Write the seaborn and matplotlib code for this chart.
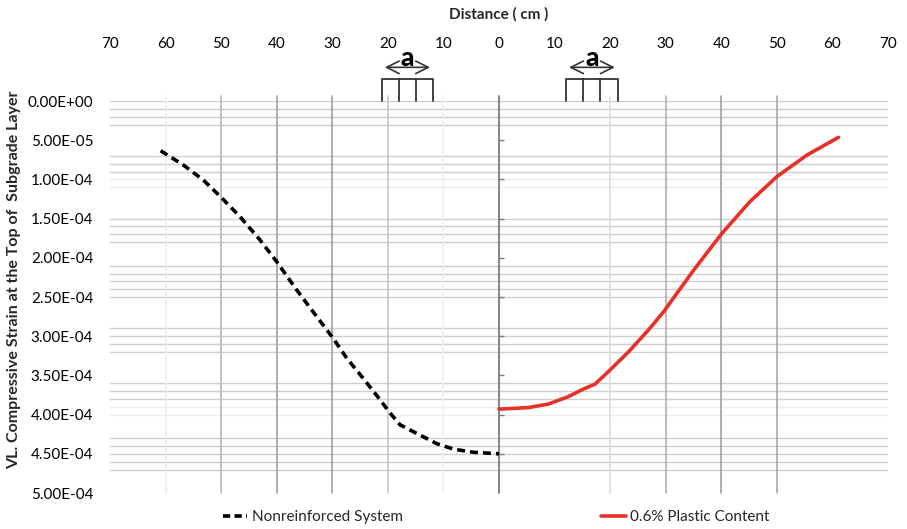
import matplotlib
matplotlib.use("Agg")
import matplotlib.pyplot as plt
import seaborn as sns
import numpy as np
import pandas as pd
from matplotlib.ticker import FuncFormatter
from matplotlib.lines import Line2D

# ---------------- data ----------------
dist_nonreinf = [-60.9, -56.8, -53.2, -50.1, -46.6, -43.0, -40.0, -36.4, -32.8, -29.8,
                 -27.4, -24.4, -21.4, -19.6, -17.8, -14.8, -11.2, -8.2, -4.6, 0]
strain_nonreinf = [6.34e-5, 8.16e-5, 1.008e-4, 1.221e-4, 1.476e-4, 1.773e-4, 2.05e-4, 2.41e-4,
                   2.75e-4, 3.03e-4, 3.28e-4, 3.54e-4, 3.81e-4, 3.98e-4, 4.13e-4, 4.24e-4,
                   4.37e-4, 4.44e-4, 4.48e-4, 4.50e-4]

dist_plastic = [0, 5.3, 8.9, 12.5, 15.0, 17.3, 19.7, 23.3, 26.9, 29.6, 35.0, 40.1, 45.2, 50.0, 55.4, 61.1]
strain_plastic = [3.93e-4, 3.91e-4, 3.865e-4, 3.77e-4, 3.68e-4, 3.61e-4, 3.45e-4, 3.20e-4, 2.92e-4,
                  2.69e-4, 2.16e-4, 1.69e-4, 1.28e-4, 9.65e-5, 6.9e-5, 4.63e-5]

x_ticks = [-70, -60, -50, -40, -30, -20, -10, 0, 10, 20, 30, 40, 50, 60, 70]
y_ticks = [0, 5e-5, 1e-4, 1.5e-4, 2e-4, 2.5e-4, 3e-4, 3.5e-4, 4e-4, 4.5e-4, 5e-4]

series_names = ["Nonreinforced System", "0.6% Plastic Content"]
x_title = "Distance ( cm )"
y_title = "VL. Compressive Strain at the Top of  Subgrade Layer"
load_label = "a"

# ---------------- style ----------------
sns.set_style("white")
plt.rcParams["font.family"] = ["Lato", "DejaVu Sans"]

fig = plt.figure(figsize=(9.07, 5.29), dpi=100)
ax = fig.add_axes([0.1213, 0.068, 0.979 - 0.1213, 0.809 - 0.068])

df1 = pd.DataFrame({"d": dist_nonreinf, "s": strain_nonreinf})
df2 = pd.DataFrame({"d": dist_plastic, "s": strain_plastic})

# grid lines (styling)
minor_levels = [0, 1, 2, 3, 7, 8, 9, 15, 16, 17, 18, 21, 22, 23, 24, 25,
                29, 30, 31, 32, 36, 37, 38, 43, 44, 45, 46, 47]
faint_levels = [10, 11, 39, 40]
for lv in minor_levels:
    ax.axhline(lv * 1e-5, color="#cfcfcf", lw=1.0, zorder=0)
for lv in faint_levels:
    ax.axhline(lv * 1e-5, color="#ececec", lw=1.0, zorder=0)

vcolors = {-60: "#eeeeee", -50: "#b8b8b8", -40: "#a0a0a0", -30: "#a0a0a0", -20: "#c8c8c8",
           -10: "#f0f0f0", 20: "#dddddd", 30: "#b0b0b0", 40: "#a0a0a0", 50: "#a8a8a8"}
for xv, c in vcolors.items():
    ax.axvline(xv, ymin=0, ymax=1.013, color=c, lw=1.2, zorder=0.5, clip_on=False)
ax.axvline(0, ymin=0, ymax=1.013, color="#7a7a7a", lw=1.3, zorder=0.6, clip_on=False)
ax.hlines(y_ticks[1:-1], 0, 0.9, color="#7a7a7a", lw=1.0, zorder=0.6)

sns.lineplot(data=df1, x="d", y="s", ax=ax, color="black", lw=2.6,
             linestyle=(0, (2.2, 1.4)), sort=False, zorder=3)
sns.lineplot(data=df2, x="d", y="s", ax=ax, color="#e8302a", lw=2.6, sort=False, zorder=3)

ax.set_xlim(-70, 70)
ax.set_ylim(5e-4, 0)
ax.set_xticks(x_ticks)
ax.set_xticklabels([str(abs(v)) for v in x_ticks])
ax.set_yticks(y_ticks)
ax.yaxis.set_major_formatter(FuncFormatter(lambda v, p: f"{v:.2E}"))
ax.xaxis.set_ticks_position("top")
ax.tick_params(axis="x", length=0, pad=36, labelsize=11, colors="black")
ax.tick_params(axis="y", length=0, pad=12, labelsize=11, colors="black")
for s in ax.spines.values():
    s.set_visible(False)
ax.set_xlabel("")
ax.set_ylabel("")
fig.text(499 / 907, 1 - 14 / 529, x_title, ha="center", va="center",
         fontsize=11, fontweight="bold")
fig.text(14 / 907, 1 - 280 / 529, y_title, ha="center", va="center", rotation=90,
         fontsize=11.5, fontweight="bold")

# load sketch (two wheel groups)
box_top = -2.85e-5
arrow_y = -4.3e-5
for x0, x1 in [(-21.05, -11.9), (12.1, 21.35)]:
    cells = np.linspace(x0, x1, 4)
    ax.plot([x0, x0, x1, x1], [0, box_top, box_top, 0], color="#333333", lw=1.3,
            clip_on=False, zorder=4)
    for cx in cells[1:-1]:
        ax.plot([cx, cx], [0, box_top], color="#333333", lw=1.3, clip_on=False, zorder=4)
    ax.annotate("", xy=(x0, arrow_y), xytext=(x1, arrow_y),
                arrowprops=dict(arrowstyle="<->,head_length=0.9,head_width=0.45",
                                color="#333333", lw=1.2), annotation_clip=False)
    ax.text((x0 + x1) / 2, arrow_y + 0.35e-5, load_label, ha="center", va="bottom",
            fontsize=19, fontweight="black", color="black", clip_on=False)

handles = [Line2D([0], [0], color="black", lw=2.6, linestyle=(0, (2.0, 1.2))),
           Line2D([0], [0], color="#e8302a", lw=2.6)]
fig.legend(handles, series_names, loc="center", bbox_to_anchor=(0.547, 0.022), ncol=2,
           frameon=False, fontsize=11, handlelength=1.6, handletextpad=0.3,
           columnspacing=13.0)

fig.savefig("out.png", dpi=100)
